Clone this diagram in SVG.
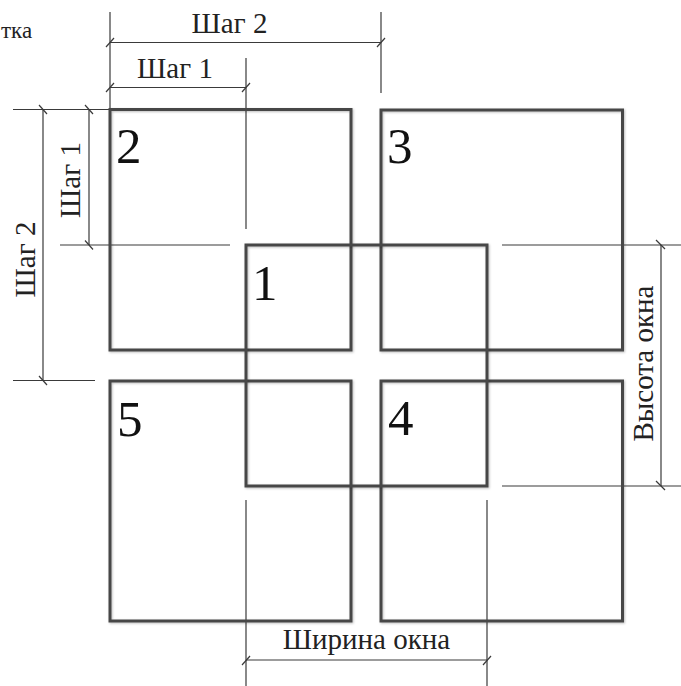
<svg xmlns="http://www.w3.org/2000/svg" width="681" height="686" viewBox="0 0 681 686">
<defs>
<filter id="sh" x="-5%" y="-5%" width="110%" height="110%">
<feDropShadow dx="1" dy="1" stdDeviation="1" flood-color="#000" flood-opacity="0.25"/>
</filter>
</defs>
<style>
.box{fill:none;stroke:#474747;stroke-width:3;filter:url(#sh)}
.dim{fill:none;stroke:#3a3a3a;stroke-width:1.2}
.tick{fill:none;stroke:#3a3a3a;stroke-width:1.2}
.lbl{font-family:"Liberation Serif","Times New Roman",serif;font-size:29px;fill:#222;text-anchor:middle}
.num{font-family:"Liberation Serif","Times New Roman",serif;font-size:51px;fill:#111}
.cap{font-family:"Liberation Serif","Times New Roman",serif;font-size:23px;fill:#222}
</style>
<rect width="681" height="686" fill="#fff"/>
<text class="cap" x="1" y="38">тка</text>
<g id="connectors">
<line class="dim" x1="110" y1="12" x2="110" y2="109"/>
<line class="dim" x1="381" y1="12" x2="381" y2="93"/>
<line class="dim" x1="110" y1="42.5" x2="381" y2="42.5"/>
<line class="tick" x1="106" y1="47" x2="114" y2="38"/>
<line class="tick" x1="377" y1="47" x2="385" y2="38"/>
<line class="dim" x1="246" y1="58" x2="246" y2="229"/>
<line class="dim" x1="110" y1="87.5" x2="246" y2="87.5"/>
<line class="tick" x1="106" y1="92" x2="114" y2="83"/>
<line class="tick" x1="242" y1="92" x2="250" y2="83"/>
<line class="dim" x1="13" y1="109.5" x2="110" y2="109.5"/>
<line class="dim" x1="60" y1="245" x2="230" y2="245"/>
<line class="dim" x1="13" y1="380.5" x2="95" y2="380.5"/>
<line class="dim" x1="43" y1="109.5" x2="43" y2="380.5"/>
<line class="dim" x1="89" y1="109.5" x2="89" y2="245"/>
<line class="tick" x1="39" y1="105" x2="47" y2="114"/>
<line class="tick" x1="39" y1="376" x2="47" y2="385"/>
<line class="tick" x1="85" y1="105" x2="93" y2="114"/>
<line class="tick" x1="85" y1="240.5" x2="93" y2="249.5"/>
<line class="dim" x1="502" y1="245" x2="681" y2="245"/>
<line class="dim" x1="502" y1="486" x2="681" y2="486"/>
<line class="dim" x1="661" y1="245" x2="661" y2="486"/>
<line class="tick" x1="656" y1="240" x2="665" y2="249"/>
<line class="tick" x1="656" y1="481" x2="665" y2="490"/>
<line class="dim" x1="246" y1="500" x2="246" y2="686"/>
<line class="dim" x1="487" y1="500" x2="487" y2="686"/>
<line class="dim" x1="246" y1="660" x2="487" y2="660"/>
<line class="tick" x1="242" y1="665" x2="250" y2="656"/>
<line class="tick" x1="483" y1="665" x2="491" y2="656"/>
</g>
<g id="labels">
<text class="lbl" x="229.5" y="33">Шаг 2</text>
<text class="lbl" x="175" y="78">Шаг 1</text>
<text class="lbl" transform="translate(80,180) rotate(-90)">Шаг 1</text>
<text class="lbl" transform="translate(35,259.5) rotate(-90)">Шаг 2</text>
<text class="lbl" transform="translate(653,363.5) rotate(-90)">Высота окна</text>
<text class="lbl" x="366.5" y="649">Ширина окна</text>
</g>
<g id="node2"><rect class="box" x="110" y="109.5" width="241" height="240.5"/><text class="num" x="116" y="163">2</text></g>
<g id="node3"><rect class="box" x="381" y="110" width="241.5" height="240"/><text class="num" x="387" y="163">3</text></g>
<g id="node5"><rect class="box" x="110" y="381" width="241" height="240"/><text class="num" x="117" y="436">5</text></g>
<g id="node4"><rect class="box" x="381" y="381" width="241.5" height="240"/><text class="num" x="388" y="435">4</text></g>
<g id="node1"><rect class="box" x="246" y="245" width="241" height="241"/><text class="num" x="252" y="300">1</text></g>
</svg>
